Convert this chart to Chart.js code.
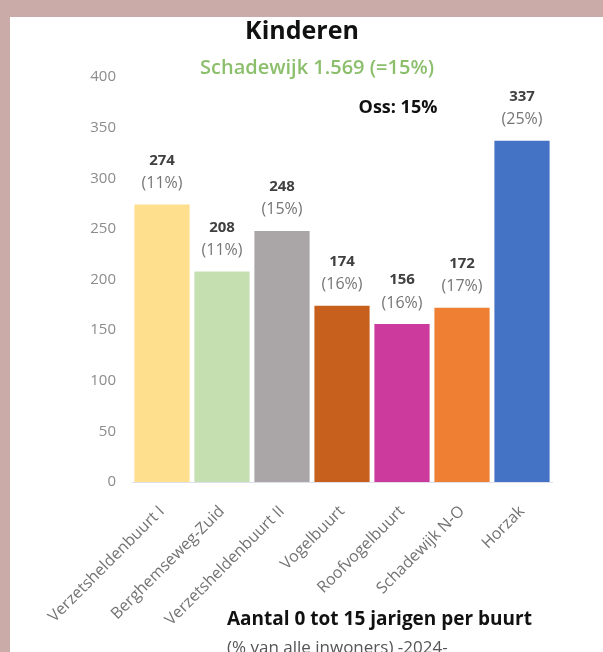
<!DOCTYPE html>
<html>
<head>
<meta charset="utf-8">
<script src="https://cdn.jsdelivr.net/npm/chart.js@4"></script>
<style>
    html, body { margin: 0; padding: 0; background: #caaba7; overflow: hidden; }
    #wrap { position: absolute; left: 10px; top: 17px; width: 593px; height: 635px; background: #ffffff; }
</style>
</head>
<body>
<div id="wrap"><canvas id="kinderenChart" width="593" height="635"></canvas></div>
<script>
// buurten en aantallen kinderen (0-15 jaar)
const buurten = ['Verzetsheldenbuurt I', 'Berghemseweg-Zuid', 'Verzetsheldenbuurt II', 'Vogelbuurt', 'Roofvogelbuurt', 'Schadewijk N-O', 'Horzak'];
const aantallen = [274, 208, 248, 174, 156, 172, 337];
const percentages = [11, 11, 15, 16, 16, 17, 25];
const kleuren = ['#fedf8e', '#c5dfb1', '#aaa5a6', '#c6601c', '#cc3a9d', '#ee7f33', '#4472c4'];

const titel = 'Kinderen';
const subtitel = 'Schadewijk 1.569 (=15%)';
const ossTekst = 'Oss: 15%';
const onderschrift1 = 'Aantal 0 tot 15 jarigen per buurt';
const onderschrift2 = '(% van alle inwoners) -2024-';

const lettertype = '"Open Sans", sans-serif';

// getallen boven de staven
const waardeLabels = {
    id: 'waardeLabels',
    afterDatasetsDraw(chart) {
        const ctx = chart.ctx;
        const meta = chart.getDatasetMeta(0);
        ctx.save();
        ctx.textAlign = 'center';
        ctx.textBaseline = 'middle';
        meta.data.forEach((bar, i) => {
            ctx.font = 'bold 15px ' + lettertype;
            ctx.fillStyle = '#404040';
            ctx.fillText(aantallen[i], bar.x, bar.y - 44);
            ctx.font = '16px ' + lettertype;
            ctx.fillStyle = '#767676';
            ctx.fillText('(' + percentages[i] + '%)', bar.x, bar.y - 21);
        });
        ctx.restore();
    }
};

// titels en onderschrift
const teksten = {
    id: 'teksten',
    afterDraw(chart) {
        const ctx = chart.ctx;
        ctx.save();
        ctx.textBaseline = 'middle';
        ctx.textAlign = 'center';
        ctx.fillStyle = '#111111';
        ctx.font = 'bold 25px ' + lettertype;
        ctx.fillText(titel, 292, 15);
        ctx.fillStyle = '#8cbf6c';
        ctx.font = '600 20px ' + lettertype;
        ctx.fillText(subtitel, 307, 51);
        ctx.fillStyle = '#111111';
        ctx.font = 'bold 18px ' + lettertype;
        ctx.fillText(ossTekst, 388, 91);
        ctx.textAlign = 'left';
        ctx.font = 'bold 19px ' + lettertype;
        ctx.fillText(onderschrift1, 217, 603);
        ctx.fillStyle = '#555555';
        ctx.font = '17px ' + lettertype;
        ctx.fillText(onderschrift2, 217, 631);
        ctx.restore();
    }
};

new Chart(document.getElementById('kinderenChart'), {
    type: 'bar',
    data: {
        labels: buurten,
        datasets: [{
            data: aantallen,
            backgroundColor: kleuren,
            categoryPercentage: 1,
            barPercentage: 0.92
        }]
    },
    options: {
        responsive: false,
        animation: false,
        layout: { padding: { top: 60, right: 51, bottom: 0, left: 0 } },
        plugins: {
            legend: { display: false },
            tooltip: { enabled: false }
        },
        scales: {
            y: {
                min: 0,
                max: 400,
                ticks: {
                    stepSize: 50,
                    padding: 16,
                    color: '#8c8c8c',
                    font: { family: lettertype, size: 15 }
                },
                grid: { display: false, drawTicks: false },
                border: { display: false },
                afterFit(scale) { scale.width = 122; }
            },
            x: {
                ticks: {
                    minRotation: 45,
                    maxRotation: 45,
                    padding: 12,
                    color: '#737373',
                    font: { family: lettertype, size: 16 }
                },
                grid: { display: false },
                border: { display: true, color: '#dde0ea' },
                afterFit(scale) { scale.height = 170; }
            }
        }
    },
    plugins: [waardeLabels, teksten]
});
</script>
</body>
</html>
